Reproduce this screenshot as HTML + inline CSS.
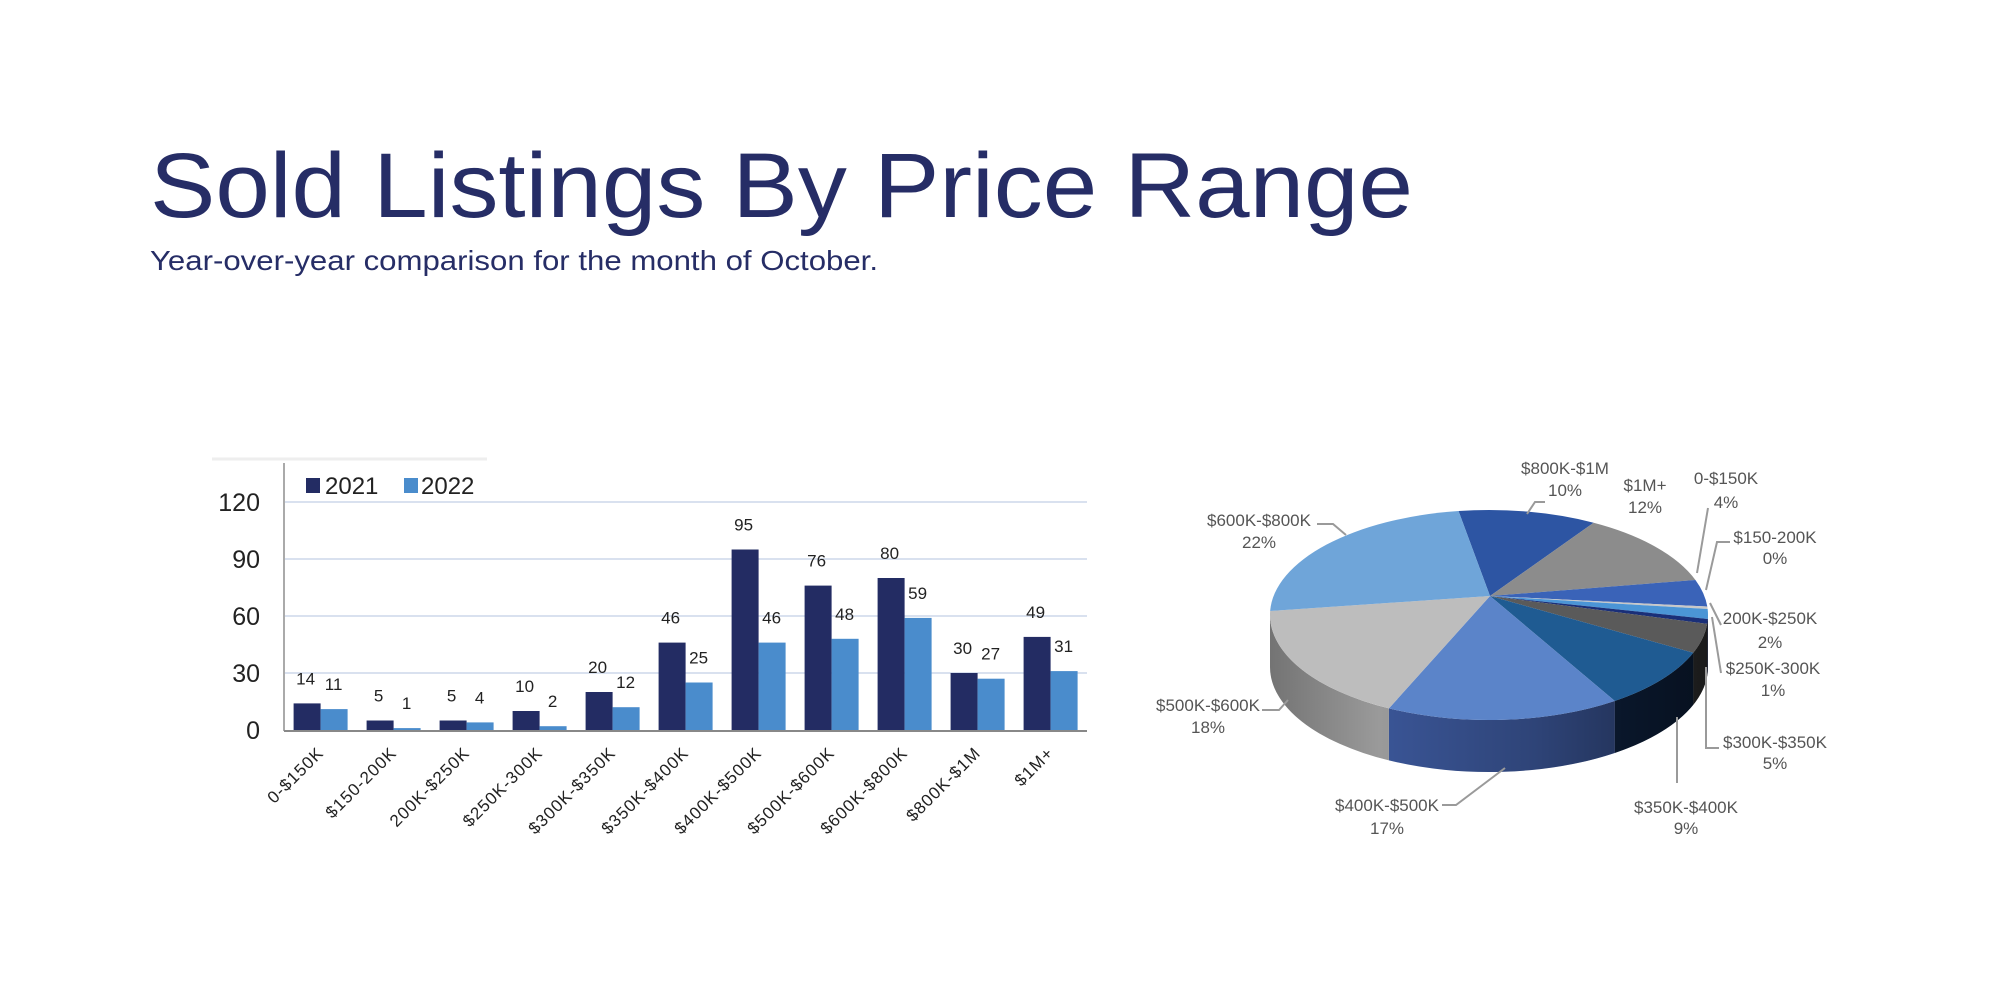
<!DOCTYPE html>
<html><head><meta charset="utf-8">
<style>
html,body{margin:0;padding:0;background:#fff;}
svg{display:block;}
text{font-family:"Liberation Sans",sans-serif;}
</style></head>
<body>
<svg id="s" width="2000" height="1000" xmlns="http://www.w3.org/2000/svg">
<defs>
<linearGradient id="shade" x1="0" y1="0" x2="1" y2="0">
<stop offset="0" stop-color="#000" stop-opacity="0.25"/>
<stop offset="0.25" stop-color="#000" stop-opacity="0"/>
<stop offset="0.6" stop-color="#000" stop-opacity="0.2"/>
<stop offset="1" stop-color="#000" stop-opacity="0.55"/>
</linearGradient>
</defs>
<rect width="2000" height="1000" fill="#fff"/>
<text x="150" y="217" font-size="92" fill="#262d66" textLength="1263" lengthAdjust="spacingAndGlyphs">Sold Listings By Price Range</text>
<text x="150" y="270" font-size="28" fill="#262d66" textLength="728" lengthAdjust="spacingAndGlyphs">Year-over-year comparison for the month of October.</text>
<line x1="212" y1="459" x2="487" y2="459" stroke="#eee" stroke-width="3"/>
<g id="bars"></g>
<g id="pie"></g>
</svg>
<script>
var NS="http://www.w3.org/2000/svg";
function el(p,tag,a,txt){var e=document.createElementNS(NS,tag);for(var k in a)e.setAttribute(k,a[k]);if(txt!=null)e.textContent=txt;p.appendChild(e);return e;}
var B=document.getElementById('bars');
var base=730,unit=57/30;
[30,60,90,120].forEach(function(v){var y=base-v*unit;el(B,'line',{x1:284,y1:y,x2:1087,y2:y,stroke:'#d9e1ef','stroke-width':2});});
[0,30,60,90,120].forEach(function(v){var y=base-v*unit;el(B,'text',{x:260,y:y+9,'font-size':25,'text-anchor':'end',fill:'#222'},v);});
el(B,'line',{x1:284,y1:463,x2:284,y2:731,stroke:'#aaa','stroke-width':2});
var d1=[14,5,5,10,20,46,95,76,80,30,49],d2=[11,1,4,2,12,25,46,48,59,27,31];
var cats=['0-$150K','$150-200K','200K-$250K','$250K-300K','$300K-$350K','$350K-$400K','$400K-$500K','$500K-$600K','$600K-$800K','$800K-$1M','$1M+'];
for(var i=0;i<11;i++){
 var x=293.6+73*i;
 var h1=d1[i]*unit,h2=d2[i]*unit;
 el(B,'rect',{x:x,y:base-h1,width:27,height:h1,fill:'#232c63'});
 el(B,'rect',{x:x+27,y:base-h2,width:27,height:h2,fill:'#4a8ccc'});
 el(B,'text',{x:x+12,y:base-h1-19,'font-size':17,'text-anchor':'middle',fill:'#222'},d1[i]);
 el(B,'text',{x:x+40,y:base-h2-19,'font-size':17,'text-anchor':'middle',fill:'#222'},d2[i]);
 var cx0=x+31,cy0=754;
 el(B,'text',{x:cx0,y:cy0,'font-size':17,'text-anchor':'end',fill:'#222','letter-spacing':'1',transform:'rotate(-45 '+cx0+' '+cy0+')'},cats[i]);
}
el(B,'line',{x1:284,y1:731,x2:1087,y2:731,stroke:'#888','stroke-width':2});
el(B,'rect',{x:306,y:478,width:14,height:15,fill:'#232c63'});
el(B,'text',{x:325,y:494,'font-size':24,fill:'#222'},'2021');
el(B,'rect',{x:404,y:478,width:14,height:15,fill:'#4a8ccc'});
el(B,'text',{x:421,y:494,'font-size':24,fill:'#222'},'2022');

// pie
var P=document.getElementById('pie');
var pcx=1489,pcy=615,rx=219,ry=105,dep=52,apx=1490,apy=596;
var vals=[27,31,11,1,4,2,12,25,46,48,59];
var topc=['#2d55a3','#8c8c8c','#3a63b8','#c8c8c8','#4b95d6','#1a2f78','#5a5a5a','#1f5b92','#5b84c9','#bdbdbd','#6fa5d9'];
var sidec=['#1e3a75','#666','#284a90','#999','#2f6aa0','#101e50','#3a3a3a','#0f2444','#3a5596','#9a9a9a','#4a7fb5'];
var tot=vals.reduce(function(a,b){return a+b;},0);
function pt(t,d){var r=t*Math.PI/180;return [pcx+rx*Math.cos(r),pcy+ry*Math.sin(r)+(d||0)];}
var a0=-98,angs=[];
for(var i=0;i<11;i++){var b=a0+vals[i]/tot*360;angs.push([a0,b]);a0=b;}
var sg=el(P,'g',{});
angs.forEach(function(ab,i){
 [[0,180],[360,540]].forEach(function(r){
  var s=Math.max(ab[0],r[0]),e=Math.min(ab[1],r[1]);
  if(e<=s)return;
  var p1=pt(s),p2=pt(e),p3=pt(e,dep),p4=pt(s,dep);
  el(sg,'path',{d:'M'+p1+' A'+rx+' '+ry+' 0 0 1 '+p2+' L'+p3+' A'+rx+' '+ry+' 0 0 0 '+p4+' Z',fill:sidec[i]});
 });
});
el(P,'path',{d:'M'+pt(0)+' A'+rx+' '+ry+' 0 0 1 '+pt(180)+' L'+pt(180,dep)+' A'+rx+' '+ry+' 0 0 0 '+pt(0,dep)+' Z',fill:'url(#shade)'});
angs.forEach(function(ab,i){
 var p1=pt(ab[0]),p2=pt(ab[1]);var large=(ab[1]-ab[0])>180?1:0;
 el(P,'path',{d:'M'+apx+','+apy+' L'+p1+' A'+rx+' '+ry+' 0 '+large+' 1 '+p2+' Z',fill:topc[i]});
});
var labs=[
['$800K-$1M','10%',1565,474,496],['$1M+','12%',1645,491,513],['0-$150K','4%',1726,484,508],
['$150-200K','0%',1775,543,564],['200K-$250K','2%',1770,624,648],['$250K-300K','1%',1773,674,696],
['$300K-$350K','5%',1775,748,769],['$350K-$400K','9%',1686,813,834],['$400K-$500K','17%',1387,811,834],
['$500K-$600K','18%',1208,711,733],['$600K-$800K','22%',1259,526,548]];
labs.forEach(function(L){
 el(P,'text',{x:L[2],y:L[3],'font-size':17,'text-anchor':'middle',fill:'#555'},L[0]);
 el(P,'text',{x:L[2],y:L[4],'font-size':17,'text-anchor':'middle',fill:'#555'},L[1]);
});
var lines=[
'1545,502 1535,502 1527,514','1708,508 1697,573','1730,542 1717,542 1706,590','1721,625 1710,603',
'1721,673 1712,617','1719,748 1706,748 1706,667','1677,717 1677,783','1442,805 1456,805 1505,768',
'1262,710 1279,710 1288,700','1317,524 1333,524 1346,535'];
lines.forEach(function(p){el(P,'polyline',{points:p,fill:'none',stroke:'#9a9a9a','stroke-width':2});});
</script>
</body></html>
